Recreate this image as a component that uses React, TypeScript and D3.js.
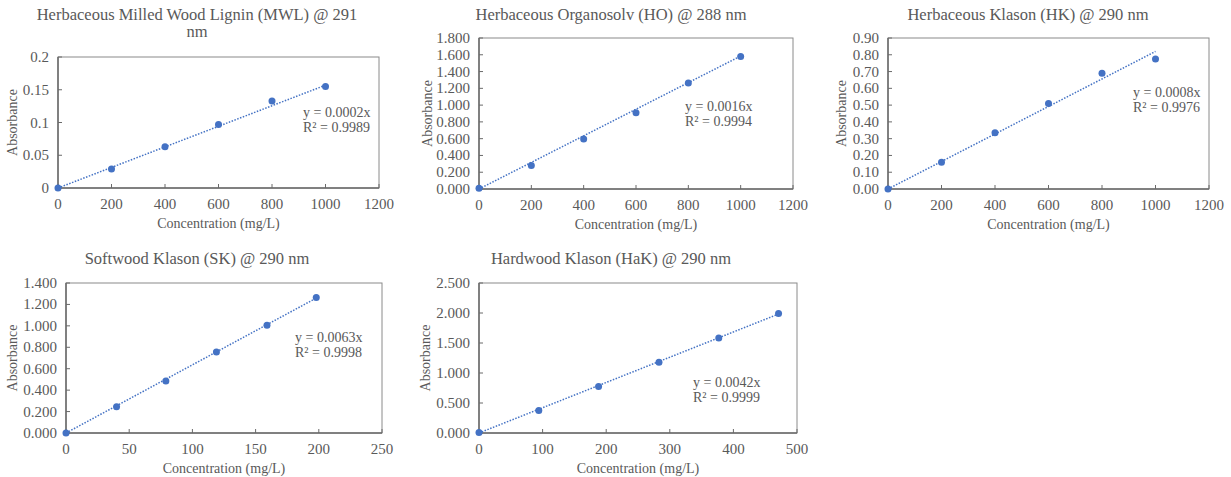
import React from 'react';
import * as d3 from 'd3';

// titles of the five calibration panels
const titles = [
  ['Herbaceous Milled Wood Lignin (MWL) @ 291', 'nm'],
  ['Herbaceous Organosolv (HO) @ 288 nm'],
  ['Herbaceous Klason (HK) @ 290 nm'],
  ['Softwood Klason (SK) @ 290 nm'],
  ['Hardwood Klason (HaK) @ 290 nm'],
];

// concentration (mg/L)
const concMWL = [0, 200, 400, 600, 800, 1000];
const concHO = [0, 200, 400, 600, 800, 1000];
const concHK = [0, 200, 400, 600, 800, 1000];
const concSK = [0, 40, 79, 119, 159, 198];
const concHaK = [0, 94, 188, 283, 377, 471];

// absorbance
const absMWL = [0, 0.029, 0.063, 0.097, 0.133, 0.155];
const absHO = [0.01, 0.28, 0.595, 0.91, 1.265, 1.58];
const absHK = [0, 0.16, 0.335, 0.51, 0.69, 0.775];
const absSK = [0, 0.245, 0.485, 0.755, 1.005, 1.265];
const absHaK = [0.01, 0.375, 0.775, 1.18, 1.585, 1.99];

// fitted slopes (through origin) used for the dotted trendlines
const trendSlopes = [0.000157, 0.001585, 0.00082, 0.00636, 0.00421];
const equations = ['y = 0.0002x', 'y = 0.0016x', 'y = 0.0008x', 'y = 0.0063x', 'y = 0.0042x'];
const rSquared = ['R² = 0.9989', 'R² = 0.9994', 'R² = 0.9976', 'R² = 0.9998', 'R² = 0.9999'];

// axis ranges / ticks
const xMax = [1200, 1200, 1200, 250, 500];
const xStep = [200, 200, 200, 50, 100];
const yMax = [0.2, 1.8, 0.9, 1.4, 2.5];
const yStep = [0.05, 0.2, 0.1, 0.2, 0.5];
const yFormats = ['~g', '.3f', '.2f', '.3f', '.3f'];

const concs = [concMWL, concHO, concHK, concSK, concHaK];
const absorb = [absMWL, absHO, absHK, absSK, absHaK];

// layout of each panel (plot box in page pixels)
const boxes = [
  { l: 58, r: 379, t: 57, b: 188, titleX: 197, titleY: 20, eqX: 303, eqY: 117, yTitleX: 13 },
  { l: 479, r: 793, t: 38, b: 189, titleX: 611, titleY: 20, eqX: 685, eqY: 111, yTitleX: 428 },
  { l: 888, r: 1209, t: 38, b: 189, titleX: 1028, titleY: 20, eqX: 1133, eqY: 97, yTitleX: 842 },
  { l: 66, r: 382, t: 283, b: 433, titleX: 197, titleY: 264, eqX: 295, eqY: 342, yTitleX: 13 },
  { l: 479, r: 797, t: 283, b: 433, titleX: 611, titleY: 264, eqX: 693, eqY: 387, yTitleX: 426 },
];

const blue = '#4472C4';
const textColor = '#595959';
const font = '"Liberation Serif", "Times New Roman", serif';

function Panel({ i }: { i: number }) {
  const box = boxes[i];
  const x = d3.scaleLinear().domain([0, xMax[i]]).range([box.l, box.r]);
  const y = d3.scaleLinear().domain([0, yMax[i]]).range([box.b, box.t]);
  const xTicks = d3.range(0, xMax[i] + xStep[i] / 2, xStep[i]);
  const yTicks = d3.range(0, yMax[i] + yStep[i] / 2, yStep[i]);
  const fmt = d3.format(yFormats[i]);
  const xs = concs[i];
  const ys = absorb[i];
  const lastX = xs[xs.length - 1];
  const trend = d3.line<number>().x(d => x(d)).y(d => y(d * trendSlopes[i]))([0, lastX]) || '';
  const cx = (box.l + box.r) / 2;
  const cy = (box.t + box.b) / 2;

  return (
    <g fontFamily={font} fill={textColor}>
      {titles[i].map((t, k) => (
        <text key={k} x={box.titleX} y={box.titleY + k * 17} textAnchor="middle" fontSize={16.5}>{t}</text>
      ))}
      <rect x={box.l} y={box.t} width={box.r - box.l} height={box.b - box.t} fill="none" stroke="#8a8a8a" strokeWidth={1} />
      <line x1={box.l} x2={box.r} y1={box.b} y2={box.b} stroke="#6a6a6a" strokeWidth={1.5} />
      <line x1={box.l} x2={box.l} y1={box.t} y2={box.b} stroke="#6a6a6a" strokeWidth={1.5} />
      {xTicks.map(v => (
        <g key={'x' + v}>
          <line x1={x(v)} x2={x(v)} y1={box.b} y2={box.b - 4} stroke="#6a6a6a" />
          <text x={x(v)} y={box.b + 21} textAnchor="middle" fontSize={15}>{v}</text>
        </g>
      ))}
      {yTicks.map(v => (
        <g key={'y' + v}>
          <line x1={box.l} x2={box.l + 4} y1={y(v)} y2={y(v)} stroke="#6a6a6a" />
          <text x={box.l - 9} y={y(v) + 5} textAnchor="end" fontSize={15}>{fmt(v)}</text>
        </g>
      ))}
      <text x={cx} y={box.b + 40} textAnchor="middle" fontSize={14}>Concentration (mg/L)</text>
      <text transform={`translate(${box.yTitleX + 4},${cy}) rotate(-90)`} textAnchor="middle" fontSize={14}>Absorbance</text>
      <path d={trend} fill="none" stroke={blue} strokeWidth={1.5} strokeDasharray="1.5,1.5" />
      {xs.map((v, k) => (
        <circle key={k} cx={x(v)} cy={y(ys[k])} r={3.5} fill={blue} />
      ))}
      <text x={box.eqX} y={box.eqY} fontSize={14}>{equations[i]}</text>
      <text x={box.eqX} y={box.eqY + 15} fontSize={14}>{rSquared[i]}</text>
    </g>
  );
}

export default function App() {
  return (
    <svg width={1231} height={477} style={{ position: 'absolute', left: 0, top: 0, background: '#fff' }}>
      {titles.map((_, i) => <Panel key={i} i={i} />)}
    </svg>
  );
}
